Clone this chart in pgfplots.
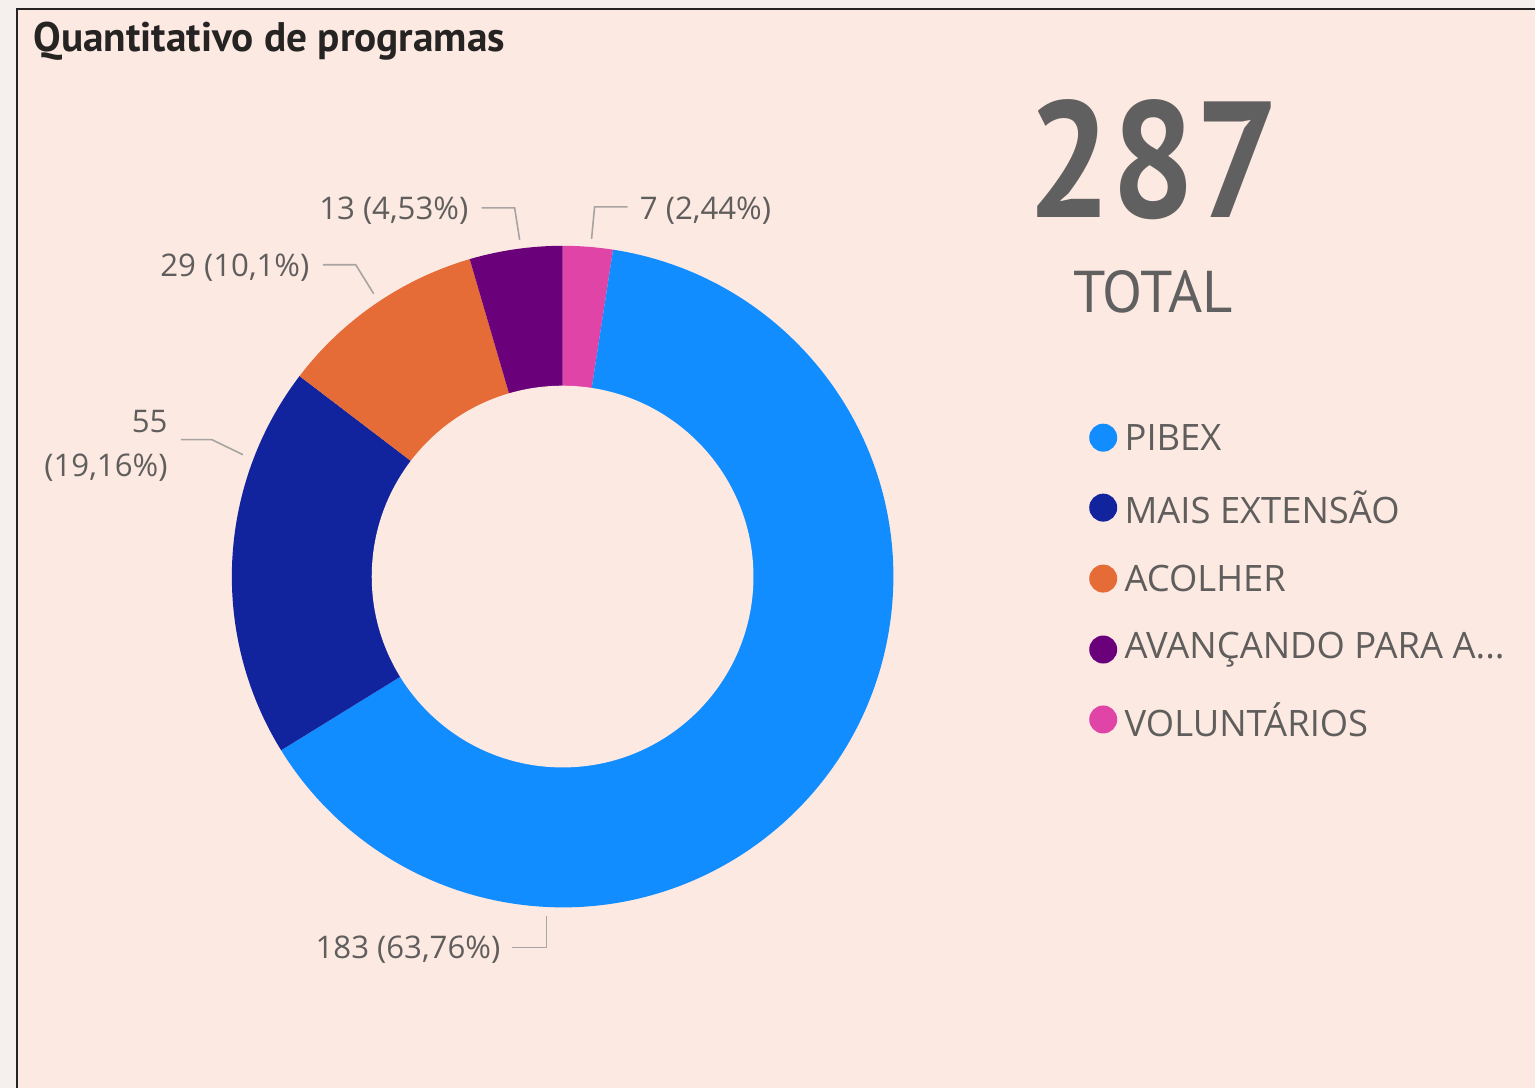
\documentclass[border=0pt]{standalone}
\usepackage{pgfplots}
\pgfplotsset{compat=1.18}
\usepackage{fontspec}
\usepackage{graphicx}
\setmainfont{Open Sans}
\newfontfamily\ptsans{PT Sans}
\definecolor{bg}{HTML}{FCE9E2}
\definecolor{outer}{HTML}{F5EFED}
\definecolor{frame}{HTML}{252423}
\definecolor{cPib}{HTML}{118DFF}
\definecolor{cMais}{HTML}{12239E}
\definecolor{cAco}{HTML}{E66C37}
\definecolor{cAva}{HTML}{6B007B}
\definecolor{cVol}{HTML}{E044A7}
\definecolor{txt}{HTML}{605E5C}
\definecolor{lead}{HTML}{A8A4A2}
\definecolor{big}{HTML}{606060}
\begin{document}
\begin{tikzpicture}
\begin{axis}[x=0.5pt,y=0.5pt,xmin=0,xmax=1536,ymin=0,ymax=1089,
  hide axis, clip=false]
% background and frame
\fill[outer] (axis cs:0,0) rectangle (axis cs:1536,1089);
\fill[bg] (axis cs:17,0) rectangle (axis cs:1536,1080);
\draw[frame, line width=1.1pt] (axis cs:17,0) -- (axis cs:17,1080) -- (axis cs:1536,1080);
% title
\node[anchor=base west, inner sep=0, text=frame] at (axis cs:33,1037)
  {\resizebox{236pt}{!}{\ptsans\bfseries Quantitativo de programas}};
% donut: values clockwise from 12 o'clock
\def\total{287}
\gdef\cum{0}
\foreach \v/\c in {7/cVol,183/cPib,55/cMais,29/cAco,13/cAva}{
  \pgfmathsetmacro\sa{90-\cum/\total*360}
  \pgfmathsetmacro\ea{90-(\cum+\v)/\total*360}
  \edef\temp{\noexpand\fill[\c] (axis cs:563,512) -- ++(\sa:165.5pt)
     arc[start angle=\sa, end angle=\ea, radius=165.5pt] -- cycle;}
  \temp
  \pgfmathsetmacro\newcum{\cum+\v}
  \xdef\cum{\newcum}
}
\fill[bg] (axis cs:563,512) circle[radius=95.5pt];
% leader lines
\draw[lead, line width=0.8pt] (axis cs:482,881) -- (axis cs:515,881) -- (axis cs:520,849);
\draw[lead, line width=0.8pt] (axis cs:628,882) -- (axis cs:595,882) -- (axis cs:592,850);
\draw[lead, line width=0.8pt] (axis cs:323,824) -- (axis cs:356,824) -- (axis cs:374,795);
\draw[lead, line width=0.8pt] (axis cs:181,649) -- (axis cs:212,649) -- (axis cs:243,634);
\draw[lead, line width=0.8pt] (axis cs:512,141) -- (axis cs:547,141) -- (axis cs:547,172);
% data labels
\tikzset{lab/.style={inner sep=0, text=txt, font=\fontsize{15.6pt}{18pt}\selectfont}}
\node[lab, anchor=east] at (axis cs:469,878) {13 (4,53\%)};
\node[lab, anchor=west] at (axis cs:640,878) {7 (2,44\%)};
\node[lab, anchor=east] at (axis cs:310,821) {29 (10,1\%)};
\node[lab, anchor=east] at (axis cs:168,667) {55};
\node[lab, anchor=east] at (axis cs:168,621) {(19,16\%)};
\node[lab, anchor=east] at (axis cs:501,139) {183 (63,76\%)};
% KPI
\node[anchor=base, inner sep=0, text=big] at (axis cs:1154,871)
  {\resizebox{126pt}{59pt}{\ptsans\bfseries 287}};
\node[anchor=base, inner sep=0, text=big] at (axis cs:1154,776)
  {\resizebox{80pt}{21pt}{\ptsans TOTAL}};
% legend
\tikzset{leg/.style={anchor=west, inner sep=0, text=txt, font=\fontsize{18.2pt}{21pt}\selectfont}}
\fill[cPib]  (axis cs:1104,651) circle[radius=7pt];
\fill[cMais] (axis cs:1104,581) circle[radius=7pt];
\fill[cAco]  (axis cs:1104,510) circle[radius=7pt];
\fill[cAva]  (axis cs:1104,439) circle[radius=7pt];
\fill[cVol]  (axis cs:1104,369) circle[radius=7pt];
\node[leg] at (axis cs:1125,651) {PIBEX};
\node[leg] at (axis cs:1125,581) {MAIS EXTENSÃO};
\node[leg] at (axis cs:1125,510) {ACOLHER};
\node[leg] at (axis cs:1125,439) {AVANÇANDO PARA A...};
\node[leg] at (axis cs:1125,369) {VOLUNTÁRIOS};
\end{axis}
\end{tikzpicture}
\end{document}
